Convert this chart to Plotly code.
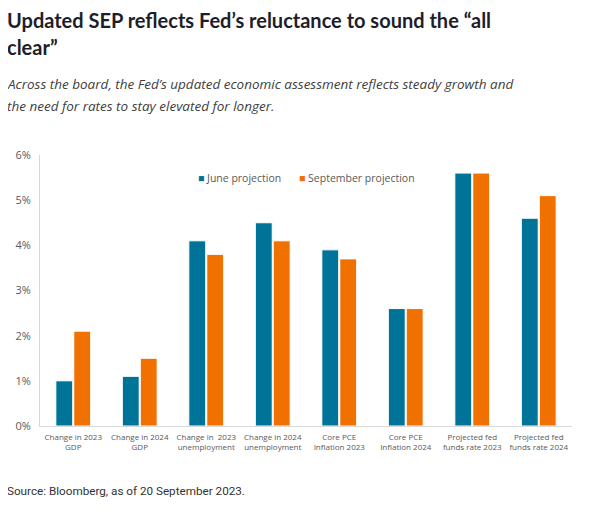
import plotly.graph_objects as go

categories = [
    "Change in 2023<br>GDP",
    "Change in 2024<br>GDP",
    "Change in  2023<br>unemployment",
    "Change in 2024<br>unemployment",
    "Core PCE<br>Inflation 2023",
    "Core PCE<br>Inflation 2024",
    "Projected fed<br>funds rate 2023",
    "Projected fed<br>funds rate 2024",
]
june = [1.0, 1.1, 4.1, 4.5, 3.9, 2.6, 5.6, 4.6]
september = [2.1, 1.5, 3.8, 4.1, 3.7, 2.6, 5.6, 5.1]
y_ticks = [0, 1, 2, 3, 4, 5, 6]
y_labels = ["0%", "1%", "2%", "3%", "4%", "5%", "6%"]
series_names = ["June projection", "September projection"]

teal = "#007398"
orange = "#F07000"
grey_txt = "#595959"

# the page has an 8px body margin, so the figure is drawn 8px smaller
OFF = 8
PLOT_L, PLOT_R, PLOT_T, PLOT_B = 40, 572, 155, 426


def px_x(x):
    return (x - PLOT_L) / (PLOT_R - PLOT_L)


def px_y(y):
    return (PLOT_B - y) / (PLOT_B - PLOT_T)


fig = go.Figure()
fig.add_trace(go.Bar(x=categories, y=june, name=series_names[0],
                     marker=dict(color=teal, line=dict(color="white", width=1))))
fig.add_trace(go.Bar(x=categories, y=september, name=series_names[1],
                     marker=dict(color=orange, line=dict(color="white", width=1))))

fig.update_layout(
    width=592 - OFF, height=517 - OFF,
    margin=dict(l=PLOT_L - OFF, r=592 - PLOT_R, t=PLOT_T - OFF, b=517 - PLOT_B),
    paper_bgcolor="white", plot_bgcolor="white",
    barmode="group", bargap=0.46, bargroupgap=0.06,
    font=dict(family="Open Sans", color=grey_txt),
    showlegend=False,
)

fig.update_xaxes(showline=True, linecolor="#d9d9d9", linewidth=1, ticks="",
                 tickfont=dict(size=8, color=grey_txt), showgrid=False,
                 ticklabelstandoff=3, automargin=False)
fig.update_yaxes(range=[0, 6], tickvals=y_ticks, ticktext=y_labels, showline=True,
                 linecolor="#d9d9d9", linewidth=1, showgrid=False, zeroline=False,
                 tickfont=dict(size=11, color=grey_txt), ticklabelstandoff=6,
                 automargin=False)

# legend drawn as text with a coloured square
for name, col, x in [(series_names[0], teal, 196), (series_names[1], orange, 297)]:
    fig.add_annotation(text=f"<span style='color:{col}'>■</span> {name}",
                       xref="paper", yref="paper", x=px_x(x), y=px_y(178),
                       xanchor="left", yanchor="middle", showarrow=False,
                       font=dict(family="Open Sans", size=10.5, color=grey_txt))

# title, two lines
title_lines = ["Updated SEP reflects Fed’s reluctance to sound the “all", "clear”"]
for line, y in zip(title_lines, [20, 47]):
    fig.add_annotation(text=f"<b>{line}</b>", xref="paper", yref="paper",
                       x=px_x(5), y=px_y(y), xanchor="left", yanchor="middle",
                       showarrow=False,
                       font=dict(family="Lato", size=20, color="#1e1e2a"))

# subtitle, two lines
sub_lines = [
    "Across the board, the Fed’s updated economic assessment reflects steady growth and",
    "the need for rates to stay elevated for longer.",
]
for line, y in zip(sub_lines, [84, 106]):
    fig.add_annotation(text="<i>" + line + "</i>", xref="paper", yref="paper",
                       x=px_x(5), y=px_y(y), xanchor="left", yanchor="middle",
                       showarrow=False,
                       font=dict(family="Open Sans", size=13.5, color="#404040"))

fig.add_annotation(text="Source: Bloomberg, as of 20 September 2023.",
                   xref="paper", yref="paper", x=px_x(5), y=px_y(491),
                   xanchor="left", yanchor="middle", showarrow=False,
                   font=dict(family="Roboto", size=11.7, color="#333333"))

fig.write_html("out.html")
